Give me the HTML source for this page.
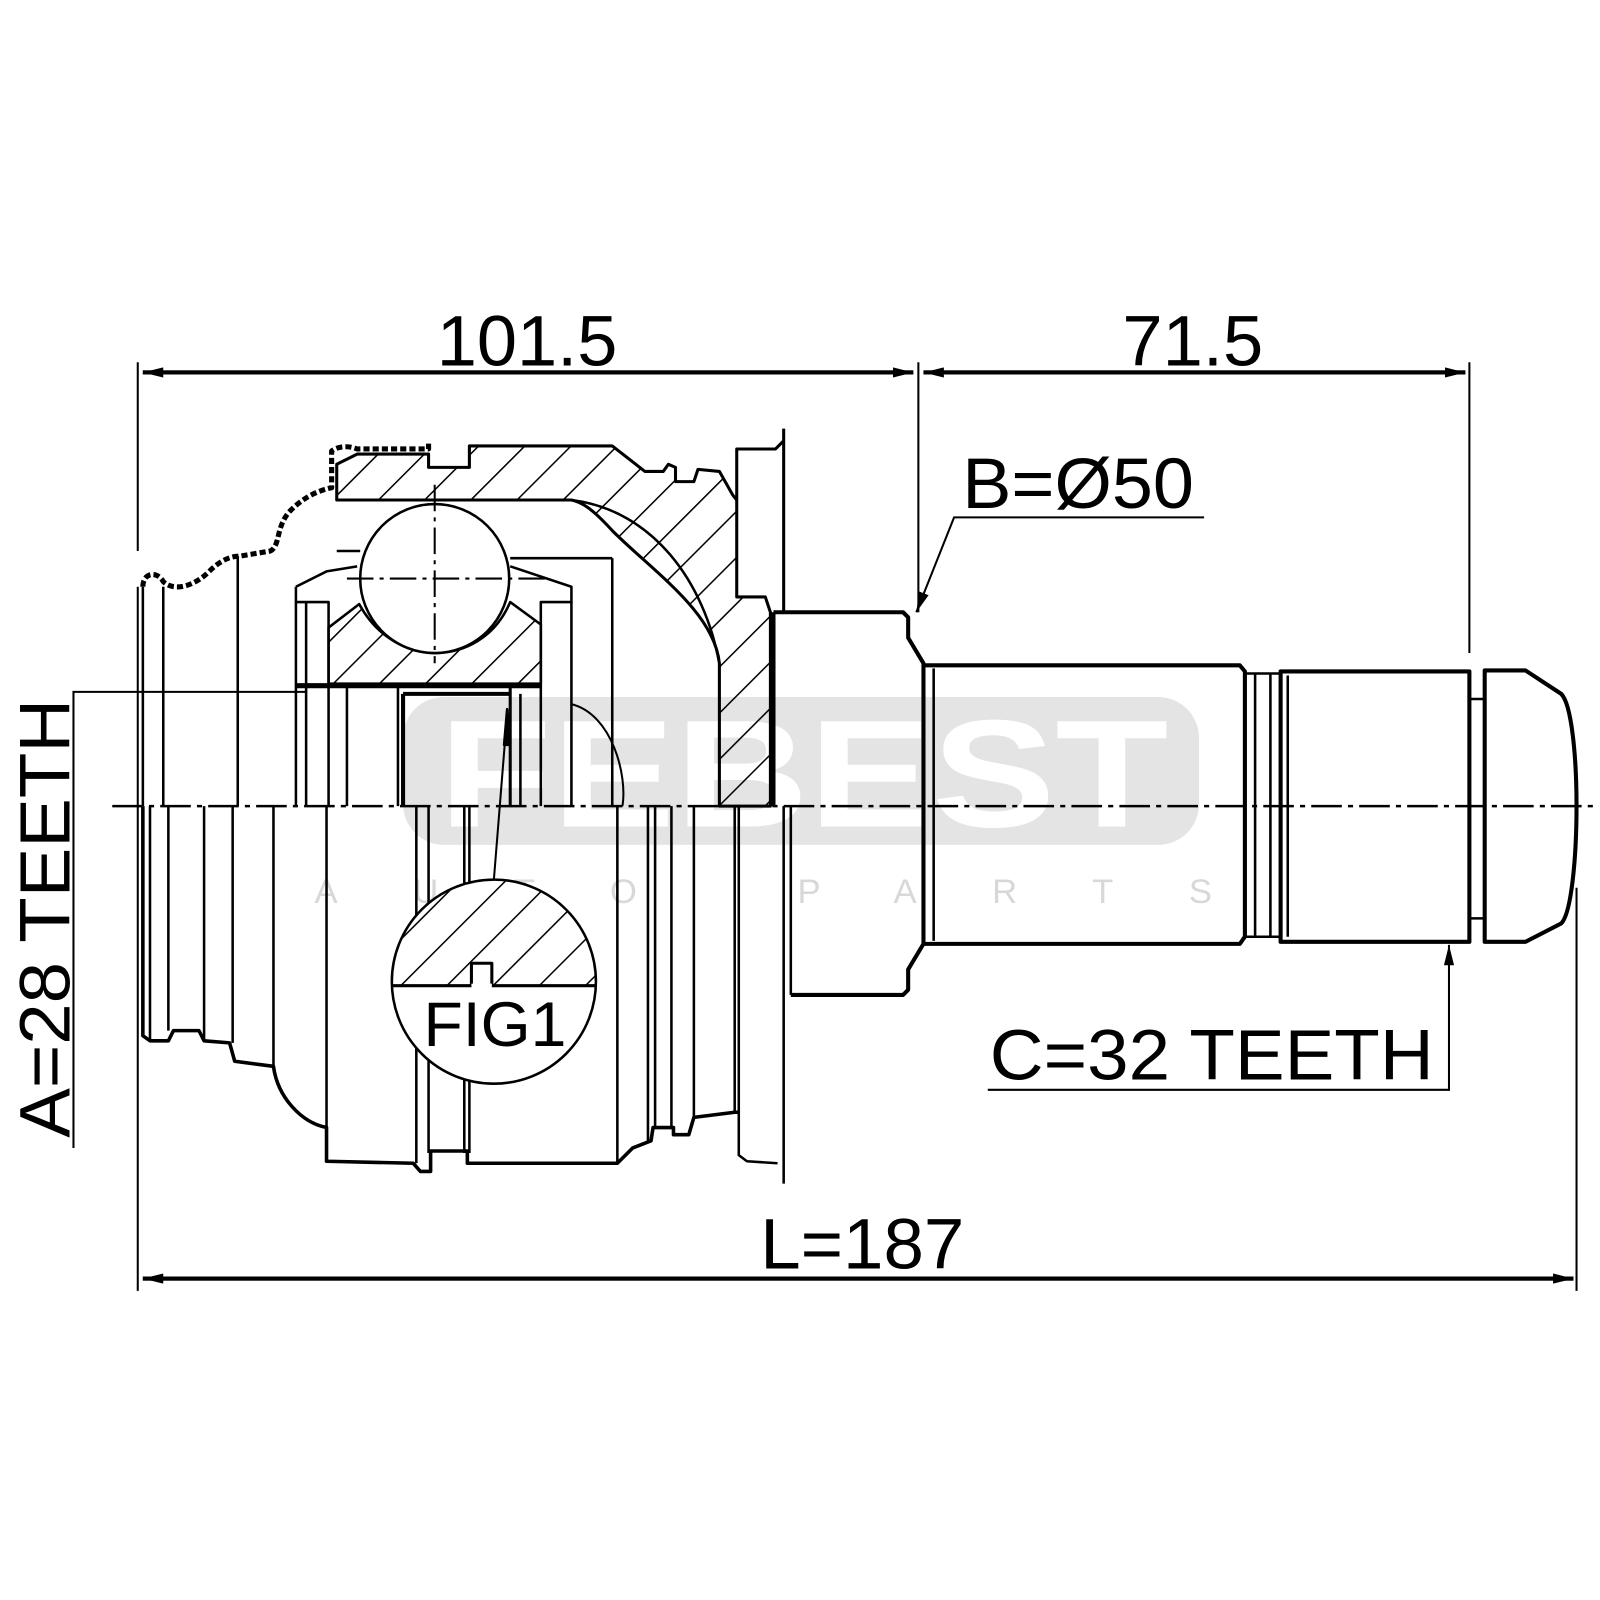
<!DOCTYPE html>
<html><head><meta charset="utf-8"><style>html,body{margin:0;padding:0;background:#fff}svg{display:block}</style></head>
<body>
<svg width="1600" height="1600" viewBox="0 0 1568 1568" xmlns="http://www.w3.org/2000/svg" font-family="Liberation Sans, Arial, sans-serif">
<defs>
<pattern id="h" patternUnits="userSpaceOnUse" width="32" height="32" patternTransform="rotate(45)">
<line x1="0" y1="0" x2="0" y2="32" stroke="#000" stroke-width="3"/>
</pattern>
<marker id="ar" viewBox="0 0 20 10" refX="20" refY="5" markerWidth="20" markerHeight="10" markerUnits="userSpaceOnUse" orient="auto"><path d="M0,0 L20,5 L0,10z" fill="#000"/></marker>
</defs>
<rect width="1568" height="1568" fill="#fff"/>

<!-- watermark -->
<rect x="395" y="683" width="780" height="145" rx="40" fill="#e4e4e4"/>
<text x="430" y="810" font-size="150" font-weight="bold" fill="#fff" textLength="715" lengthAdjust="spacingAndGlyphs">FEBEST</text>
<text x="785" y="885" font-size="34" fill="#d8d8d8" text-anchor="middle" letter-spacing="74">AUTO PARTS</text>

<g fill="none" stroke="#000" stroke-width="2.5" stroke-linejoin="round">
<path d="M330,490 L330,455 L350,445 L420,445 L420,458 L460,458 L460,437 L600,437 L632,462 L650,462 L655,455 L662,458 L662,472 L680,472 L684,460 L705,462 L718,485 L722,490 L722,585 L750,585 L755,600 L755,790 L705,790 L705,650 C700,600 640,560 600,520 C580,498 570,492 560,490 Z" fill="url(#h)" stroke-width="3"/>
<path d="M560,490 C640,500 690,570 705,650" />
<path d="M322,615 L352,592 C370,625 400,640 426,640 C455,640 485,625 500,590 L530,612 L530,670 L322,670 Z" fill="url(#h)"/>
<path d="M290,575 L320,560 L350,555 M500,555 L560,575 L560,590 L530,590 L530,612 M290,575 L290,590 L322,590 L322,615"/>
<line x1="330" y1="490" x2="560" y2="490"/>
<line x1="330" y1="540" x2="353" y2="540"/>
<line x1="500" y1="547" x2="600" y2="547"/>
<line x1="600" y1="547" x2="600" y2="790"/>
<circle cx="426" cy="567" r="73" fill="#fff"/>
<path d="M426,475 L426,650 M340,567 L535,567" stroke-dasharray="26,6,4,6" stroke-width="2"/>
<path d="M140,575 C140,560 155,560 160,570 C170,580 190,575 205,560 C215,550 225,545 235,545 L265,540 C275,535 270,515 285,500 C300,485 315,480 325,478 L325,442 C330,438 340,436 350,440 L420,440 L420,432" stroke-width="5" stroke-dasharray="6,3"/>
<path d="M722,490 L722,440 L760,440 L768,432 L768,420 M768,432 L768,600" stroke-width="3"/>
<path d="M140,575 V790 M160,575 V790 M233,545 V790 M290,590 V790 M300,590 V790 M322,615 V790 M340,672 V790 M390,672 V790 M530,612 V790 M560,590 V790"/>
<line x1="290" y1="672" x2="530" y2="672" stroke-width="5"/>
<line x1="395" y1="680" x2="395" y2="790" stroke-width="4"/>
<line x1="395" y1="680" x2="500" y2="680" stroke-width="4"/>
<line x1="500" y1="672" x2="500" y2="790" stroke-width="3"/>
<line x1="510" y1="680" x2="510" y2="790"/>
<path d="M560,690 C600,700 615,760 610,790" stroke-width="2"/>

<path d="M140,790 V1015 L147,1020 L165,1020 L170,1010 L195,1010 L200,1020 L225,1022 L230,1040 L268,1045 C272,1075 295,1100 320,1105 L320,1138 L405,1140 L412,1148 L422,1148 L422,1128 L458,1128 L458,1140 L605,1140 L620,1125 L638,1118 L640,1105 L660,1105 L660,1112 L675,1112 L680,1095 L720,1090 L724,1090" stroke-width="3.5"/>
<path d="M147,790 V1020 M165,790 V1010 M200,790 V1020 M228,790 V1022 M268,790 V1045 M320,790 V1105 M408,790 V1140 M420,790 V1130 M455,790 V1130 M460,790 V1130 M605,790 V1140 M635,790 V1118 M642,790 V1105 M658,790 V1105 M680,790 V1095 M720,790 V1090"/>
<path d="M724,790 V1132 L732,1138 L762,1140 M768,790 V1160" />
<line x1="497" y1="700" x2="484" y2="862" stroke-width="2"/>
<path d="M497,695 L500,730 L494,730 Z" fill="#000"/>

<circle cx="484" cy="962" r="100" fill="#fff"/>
<clipPath id="fc"><circle cx="484" cy="962" r="100"/></clipPath>
<path d="M384,966 L584,966 L584,862 L384,862 Z" fill="url(#h)" stroke="none" clip-path="url(#fc)"/>
<path d="M384,966 L584,966" stroke-width="3"/>
<rect x="462" y="944" width="20" height="22" fill="#fff" stroke-width="3"/>
<line x1="462" y1="966" x2="482" y2="966" stroke="#fff" stroke-width="4"/>

<path d="M758,600 L885,600 L890,605 L890,625 L905,650 L905,925 L890,950 L890,970 L885,975 L775,975" stroke-width="4"/>
<line x1="758" y1="600" x2="758" y2="790" stroke-width="4"/>
<line x1="775" y1="790" x2="775" y2="975"/>
<path d="M905,652 L1215,652 L1220,658 L1220,918 L1215,925 L905,925" stroke-width="4"/>
<line x1="915" y1="655" x2="915" y2="922"/>
<path d="M1220,660 L1255,660 M1220,918 L1255,918 M1230,660 V918 M1245,660 V918"/>
<path d="M1255,658 L1440,658 L1440,923 L1255,923 Z" stroke-width="4"/>
<path d="M1262,662 V918" />
<path d="M1440,685 L1455,685 M1440,900 L1455,900"/>
<path d="M1455,657 L1495,657 L1530,680 C1540,690 1545,740 1545,790 C1545,840 1540,895 1530,905 L1495,923 L1455,923 Z" stroke-width="4"/>
</g>

<line x1="110" y1="790" x2="1565" y2="790" stroke="#000" stroke-width="2.5" stroke-dasharray="30,6,5,6"/>

<g stroke="#000" stroke-width="2" fill="none">
<line x1="135" y1="355" x2="135" y2="540"/>
<line x1="135" y1="575" x2="135" y2="1265"/>
<line x1="900" y1="355" x2="900" y2="600"/>
<line x1="1440" y1="355" x2="1440" y2="640"/>
<line x1="1545" y1="870" x2="1545" y2="1265"/>
<line x1="140" y1="365" x2="895" y2="365" stroke-width="4" marker-end="url(#ar)"/>
<line x1="895" y1="365" x2="140" y2="365" stroke-width="4" marker-end="url(#ar)"/>
<line x1="905" y1="365" x2="1436" y2="365" stroke-width="4" marker-end="url(#ar)"/>
<line x1="1436" y1="365" x2="905" y2="365" stroke-width="4" marker-end="url(#ar)"/>
<line x1="140" y1="1253" x2="1542" y2="1253" stroke-width="4" marker-end="url(#ar)"/>
<line x1="1542" y1="1253" x2="140" y2="1253" stroke-width="4" marker-end="url(#ar)"/>
<path d="M72,1125 V678 H300"/>
<path d="M1180,507 H935 L898,600" marker-end="url(#ar)"/>
<path d="M968,1068 H1420 V926" marker-end="url(#ar)"/>
</g>
<g fill="#000" font-size="70">
<text x="428" y="358" textLength="177" lengthAdjust="spacingAndGlyphs">101.5</text>
<text x="1100" y="358" textLength="138" lengthAdjust="spacingAndGlyphs">71.5</text>
<text x="745" y="1243" textLength="200" lengthAdjust="spacingAndGlyphs">L=187</text>
<text x="943" y="498" textLength="227" lengthAdjust="spacingAndGlyphs">B=Ø50</text>
<text x="970" y="1058" textLength="435" lengthAdjust="spacingAndGlyphs">C=32 TEETH</text>
<text transform="translate(68,1115) rotate(-90)" textLength="430" lengthAdjust="spacingAndGlyphs">A=28 TEETH</text>
<text x="415" y="1025" font-size="62" textLength="140" lengthAdjust="spacingAndGlyphs">FIG1</text>
</g>
</svg>
</body></html>
